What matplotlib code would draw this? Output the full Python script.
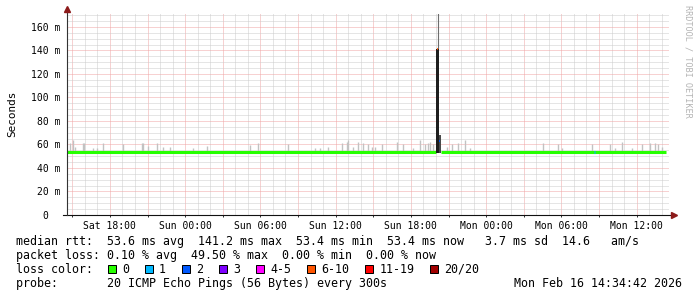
import numpy as np
import matplotlib
matplotlib.use("Agg")
import matplotlib.pyplot as plt
from matplotlib.patches import Rectangle
from matplotlib.ticker import FuncFormatter

# time axis: hours since Sat 2026-02-14 00:00
t_start = 14.58
t_end = 62.58
rtt_start = 14.58
rtt_end = 62.35

median_rtt = 53.6  # ms, flat for the whole period

# light grey smoke poking above the median
smoke_t = [14.82, 15.06, 15.22, 15.85, 15.93, 16.65, 16.97, 17.45, 19.04, 20.56, 20.64, 21.03,
           21.75, 22.23, 22.79, 24.62, 25.74,
           29.16, 29.80, 32.19, 34.34, 34.74, 35.38, 36.49, 36.89, 36.97, 37.37, 37.77, 38.17,
           38.56, 38.88,
           39.12, 39.68, 40.87, 41.35, 42.15, 42.71, 43.11, 43.35, 43.50, 43.74, 44.86, 45.26,
           45.74, 46.30, 46.69,
           52.51, 53.70, 54.02, 56.41, 57.85, 58.25, 58.80, 59.60, 60.40, 61.04, 61.44, 61.68, 62.00]
smoke_top = [61, 64, 58, 61, 61, 57, 57, 61, 60, 61, 61, 59, 61, 58, 58, 57, 59,
             59.5, 61, 60, 57, 57, 58, 61, 62, 64, 58, 62, 61, 60, 58,
             58, 60, 62, 60, 57, 64, 60, 61, 62, 60, 58, 60, 61, 64, 57,
             61, 60, 57, 60, 60, 57, 62, 57, 60, 61, 61, 60, 58]

# the loss burst on Sunday evening
burst_t = [44.12, 44.29]
burst_dense = [141.2, 68.0]     # top of the dark smoke
burst_max = [175.0, 68.0]       # highest ping
burst_median = [141.2, 63.2]
burst_loss = [5, 2]             # index into loss_labels

# single lost ping on Monday morning
loss1_t = 56.63

loss_labels = ["0", "1", "2", "3", "4-5", "6-10", "11-19", "20/20"]
loss_colors = ["#26ff00", "#00b8ff", "#0059ff", "#7e00ff", "#ff00ff", "#ff5500", "#ff0000", "#a10000"]

tick_hours = [18, 24, 30, 36, 42, 48, 54, 60]
tick_labels = ["Sat 18:00", "Sun 00:00", "Sun 06:00", "Sun 12:00",
               "Sun 18:00", "Mon 00:00", "Mon 06:00", "Mon 12:00"]

legend_rows = [
    "median rtt:  53.6 ms avg  141.2 ms max  53.4 ms min  53.4 ms now   3.7 ms sd  14.6   am/s",
    "packet loss: 0.10 % avg  49.50 % max  0.00 % min  0.00 % now",
    "loss color:",
    "probe:       20 ICMP Echo Pings (56 Bytes) every 300s",
]
stamp = "Mon Feb 16 14:34:42 2026"

MONO = "DejaVu Sans Mono"
W, H = 697, 297

fig = plt.figure(figsize=(W / 100, H / 100), dpi=100, facecolor="white")
ax = fig.add_axes([67 / W, 82 / H, 602 / W, 201 / H])
ax.set_facecolor("white")
ax.set_xlim(t_start, t_end)
ax.set_ylim(0, 171.06)

# grid
ax.set_xticks(np.arange(15, t_end, 3))
ax.set_xticks(np.arange(15, t_end, 1), minor=True)
ax.set_yticks(np.arange(0, 161, 20))
ax.set_yticks(np.arange(0, 171, 5), minor=True)
ax.grid(which="minor", color="#cccccc", lw=0.72, ls=(0, (1, 1)))
ax.grid(which="major", color="#f0a4a4", lw=0.72, ls=(0, (1, 1)))
ax.set_axisbelow(True)

lab = dict(zip(tick_hours, tick_labels))
ax.xaxis.set_major_formatter(FuncFormatter(lambda v, p: lab.get(int(round(v)), "")))
ax.yaxis.set_major_formatter(FuncFormatter(lambda v, p: "0  " if v == 0 else "%d m" % v))
ax.tick_params(axis="x", which="major", length=1.6, width=0.72, color="#333333",
               pad=2.4, labelsize=7)
ax.tick_params(axis="x", which="minor", length=0)
ax.tick_params(axis="y", which="both", length=0, pad=4.8, labelsize=7)
for lbl in ax.get_xticklabels() + ax.get_yticklabels():
    lbl.set_family(MONO)
for s in ax.spines.values():
    s.set_visible(False)

# smoke
ax.vlines(smoke_t, median_rtt, smoke_top, colors="#c2c2c2", lw=1.0, zorder=2)

# median line, broken where the burst is
gap0 = burst_t[0] - 0.085
gap1 = burst_t[-1] + 0.085
ax.plot([rtt_start, gap0], [median_rtt, median_rtt], color=loss_colors[0], lw=2.2,
        solid_capstyle="butt", zorder=3)
ax.plot([gap1, rtt_end], [median_rtt, median_rtt], color=loss_colors[0], lw=2.2,
        solid_capstyle="butt", zorder=3)
ax.plot([loss1_t - 0.06, loss1_t + 0.06], [median_rtt, median_rtt], color=loss_colors[1],
        lw=2.2, solid_capstyle="butt", zorder=4)

# burst
ax.vlines(burst_t[0] + 0.02, burst_dense[0], burst_max[0], colors="#6e6e6e", lw=0.8, zorder=3)
ax.bar(burst_t[0], burst_dense[0] - 52.5, bottom=52.5, width=0.17, color="#1e1e1e", zorder=4)
ax.bar(burst_t[1], burst_dense[1] - 52.5, bottom=52.5, width=0.17, color="#4a4a4a", zorder=4)
for t, m, li in zip(burst_t, burst_median, burst_loss):
    ax.plot([t - 0.05, t + 0.07], [m, m], color=loss_colors[li], lw=1.3,
            solid_capstyle="butt", zorder=5)

# axes with arrows
axis_c = "#333333"
arrow_c = "#8c1a1a"
ax.plot([-4 / 602, 1 + 3 / 602], [0, 0], color="#111111", lw=0.8, transform=ax.transAxes,
        clip_on=False, zorder=6)
ax.plot([0, 0], [0, 1 + 3 / 201], color=axis_c, lw=0.8, transform=ax.transAxes,
        clip_on=False, zorder=6)
ax.plot([1 + 5 / 602], [0], marker=">", ms=4, color=arrow_c, mec=arrow_c,
        transform=ax.transAxes, clip_on=False, zorder=7)
ax.plot([0], [1 + 5 / 201], marker="^", ms=4, color=arrow_c, mec=arrow_c,
        transform=ax.transAxes, clip_on=False, zorder=7)

# labels
fig.text(12 / W, 1 - 114 / H, "Seconds", rotation=90, ha="center", va="center",
         family=MONO, fontsize=7.9)
fig.text(688 / W, 1 - 5 / H, "RRDTOOL / TOBI OETIKER", rotation=270, ha="center", va="top",
         family=MONO, fontsize=6.1, color="#b4b4b4")

# legend block
base_y = [244.7, 258.8, 272.9, 287.0]
for row, y in zip(legend_rows, base_y):
    fig.text(15.5 / W, 1 - y / H, row, family=MONO, fontsize=8.4, va="baseline")
fig.text(681.5 / W, 1 - base_y[3] / H, stamp, family=MONO, fontsize=8.4, va="baseline",
         ha="right")

x0 = 108.0
extra = 0
for lbl, col in zip(loss_labels, loss_colors):
    bx = x0 + extra
    fig.patches.append(Rectangle((bx / W, 1 - 273 / H), 8 / W, 8 / H, transform=fig.transFigure,
                                 facecolor=col, edgecolor="black", lw=0.72, figure=fig))
    fig.text((bx + 14) / W, 1 - base_y[2] / H, lbl, family=MONO, fontsize=8.4, va="baseline")
    extra += 37.0 + 7.05 * (len(lbl) - 1)

fig.savefig("out.png", dpi=100, facecolor="white")
